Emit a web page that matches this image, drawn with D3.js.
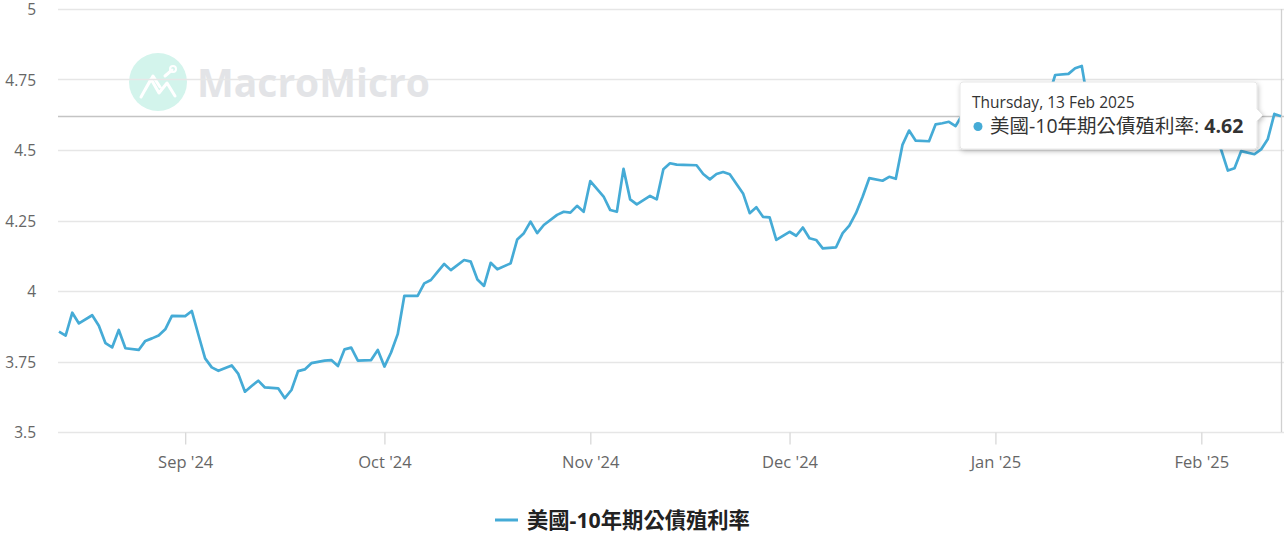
<!DOCTYPE html>
<html>
<head>
<meta charset="utf-8">
<script src="https://cdn.jsdelivr.net/npm/d3@7"></script>
<style>
  body { margin: 0; background: #fff; }
  .chart { width: 1284px; height: 535px; }
  text { font-family: "Open Sans", "Noto Sans CJK TC", sans-serif; }
</style>
</head>
<body>
<div class="chart"></div>
<script>
// US 10y yield, one value per calendar day from 13 Aug 2024 (null = no point that day)
const startDay = new Date(2024, 7, 13);
const yields = [
  3.856, 3.842, 3.923, 3.885, null, 3.914, 3.877, 3.815, 3.800, 3.862, 3.797, null, 3.791, 3.823,
  3.832, 3.842, 3.864, 3.912, null, 3.911, 3.929, 3.844, 3.761, 3.729, 3.717, null, 3.736, 3.706,
  3.643, 3.663, 3.682, 3.658, null, 3.655, 3.620, 3.649, 3.716, 3.722, 3.744, null, 3.753, 3.755,
  3.734, 3.793, 3.799, 3.753, null, 3.755, 3.791, 3.732, 3.782, 3.847, 3.983, null, 3.983, 4.027,
  4.039, 4.068, 4.096, 4.074, null, 4.110, 4.104, 4.041, 4.018, 4.100, 4.077, null, 4.098, 4.183,
  4.205, 4.246, 4.205, 4.234, null, 4.270, 4.281, 4.278, 4.302, 4.281, 4.390, null, 4.335, 4.287,
  4.281, 4.433, 4.325, 4.307, null, 4.337, 4.325, 4.432, 4.453, 4.448, 4.447, null, 4.446, 4.415,
  4.396, 4.415, 4.422, 4.414, null, 4.346, 4.276, 4.297, 4.263, 4.261, 4.181, null, 4.210, 4.196,
  4.225, 4.187, 4.181, 4.151, null, 4.155, 4.205, 4.232, 4.276, 4.334, 4.400, null, 4.391, 4.405,
  4.398, 4.518, 4.569, 4.533, null, 4.531, 4.591, 4.595, 4.600, 4.585, 4.624, null, 4.620, 4.550,
  4.570, 4.570, 4.570, 4.600, null, 4.600, 4.620, 4.680, 4.690, 4.690, 4.766, null, 4.770, 4.790,
  4.798, 4.660, 4.610, 4.610, null, 4.610, 4.600, 4.570, 4.600, 4.640, 4.620, null, 4.620, 4.530,
  4.550, 4.540, 4.520, 4.570, null, 4.570, 4.550, 4.500, 4.427, 4.435, 4.496, null, 4.485, 4.502,
  4.538, 4.628, 4.620
];
const yTicks = [3.5, 3.75, 4, 4.25, 4.5, 4.75, 5];
const monthTicks = [
  new Date(2024, 8, 1), new Date(2024, 9, 1), new Date(2024, 10, 1),
  new Date(2024, 11, 1), new Date(2025, 0, 1), new Date(2025, 1, 1)
];
const seriesName = '美國-10年期公債殖利率';
const lineColor = '#45abd6';

const width = 1284;
const height = 535;

const points = yields
  .map((v, i) => ({ date: d3.timeDay.offset(startDay, i), value: v }))
  .filter(d => d.value !== null);
const hovered = points[points.length - 1];

const svg = d3.select('.chart').append('svg')
  .attr('width', width)
  .attr('height', height);

const x = d3.scaleTime()
  .domain([startDay, hovered.date])
  .range([59, 1281]);

const y = d3.scaleLinear()
  .domain([3.5, 5])
  .range([432, 9]);

// watermark
const wm = svg.append('g').attr('class', 'watermark');
wm.append('circle')
  .attr('cx', 158).attr('cy', 82).attr('r', 29)
  .style('fill', '#d3f4ec');
wm.append('path')
  .attr('d', 'M141,97 L151,79 L159,93 L167,83 L175,96 M145,90 L153,76 L160,87 M165,76 L172,70')
  .style('fill', 'none')
  .style('stroke', '#fff')
  .style('stroke-width', 3)
  .style('stroke-linejoin', 'round')
  .style('stroke-linecap', 'round');
wm.append('circle')
  .attr('cx', 173).attr('cy', 69).attr('r', 3)
  .style('fill', 'none')
  .style('stroke', '#fff')
  .style('stroke-width', 2);
wm.append('text')
  .attr('x', 197).attr('y', 97)
  .style('font-size', '39px')
  .style('font-weight', 'bold')
  .style('fill', '#e3e4e7')
  .text('MacroMicro');

// horizontal grid + y labels
svg.append('g')
  .selectAll('line')
  .data(yTicks)
  .join('line')
  .attr('x1', 58)
  .attr('x2', width)
  .attr('y1', d => Math.round(y(d)) + 0.5)
  .attr('y2', d => Math.round(y(d)) + 0.5)
  .style('stroke', '#e6e6e6')
  .style('stroke-width', '1.3px');

svg.append('g')
  .selectAll('text')
  .data(yTicks)
  .join('text')
  .attr('x', 36)
  .attr('y', d => y(d) + 1)
  .attr('dy', '0.35em')
  .attr('text-anchor', 'end')
  .style('font-size', '15.5px')
  .style('fill', '#666')
  .text(d => d);

// x axis
const xAxis = d3.axisBottom(x)
  .tickValues(monthTicks)
  .tickSize(12)
  .tickPadding(12)
  .tickFormat(d3.timeFormat("%b '%y"));

const gx = svg.append('g')
  .attr('transform', 'translate(0,432.5)')
  .call(xAxis);
gx.select('.domain').remove();
gx.selectAll('.tick line').style('stroke', '#d8d8d8').style('stroke-width', '1.3px');
gx.selectAll('.tick text')
  .style('font-size', '16.5px')
  .style('fill', '#666')
  .style('font-family', '"Open Sans", sans-serif');

// crosshairs at hovered point
svg.append('line')
  .attr('x1', 58).attr('x2', width)
  .attr('y1', Math.round(y(hovered.value)) + 0.5)
  .attr('y2', Math.round(y(hovered.value)) + 0.5)
  .style('stroke', '#c4c4c4')
  .style('stroke-width', '1.3px');
svg.append('line')
  .attr('x1', Math.round(x(hovered.date)) + 0.5)
  .attr('x2', Math.round(x(hovered.date)) + 0.5)
  .attr('y1', 9).attr('y2', 432)
  .style('stroke', '#d0d0d0')
  .style('stroke-width', '1.3px');

// the series
const line = d3.line()
  .x(d => x(d.date))
  .y(d => y(d.value));

svg.append('path')
  .datum(points)
  .attr('d', line)
  .style('fill', 'none')
  .style('stroke', lineColor)
  .style('stroke-width', '2.7px')
  .style('stroke-linejoin', 'round');

// legend
svg.append('line')
  .attr('x1', 495).attr('x2', 518)
  .attr('y1', 520).attr('y2', 520)
  .style('stroke', lineColor)
  .style('stroke-width', '3px');
svg.append('text')
  .attr('x', 527).attr('y', 528)
  .style('font-size', '21.3px')
  .style('font-weight', 'bold')
  .style('fill', '#222')
  .text(seriesName);

// tooltip
const defs = svg.append('defs');
const shadow = defs.append('filter').attr('id', 'shadow')
  .attr('x', '-10%').attr('y', '-20%').attr('width', '130%').attr('height', '160%');
shadow.append('feDropShadow')
  .attr('dx', 1).attr('dy', 2).attr('stdDeviation', 2.5)
  .attr('flood-color', '#000').attr('flood-opacity', 0.25);

const tip = svg.append('g').attr('transform', 'translate(960,82)');
tip.append('path')
  .attr('d', 'M3,0 H294 Q297,0 297,3 V27 L303,33 L297,39 V64 Q297,67 294,67 H3 Q0,67 0,64 V3 Q0,0 3,0 Z')
  .style('fill', '#fff')
  .style('stroke', '#e2e2e2')
  .style('stroke-width', 0.8)
  .attr('filter', 'url(#shadow)');
tip.append('text')
  .attr('x', 12).attr('y', 26)
  .style('font-size', '15.5px')
  .style('fill', '#333')
  .text(d3.timeFormat('%A, %-d %b %Y')(hovered.date));
tip.append('circle')
  .attr('cx', 18).attr('cy', 44.5).attr('r', 4.5)
  .style('fill', lineColor);
const body = tip.append('text')
  .attr('x', 30).attr('y', 51)
  .style('font-size', '19.5px')
  .style('fill', '#333');
body.append('tspan').text(seriesName + ': ');
body.append('tspan')
  .style('font-weight', 'bold')
  .text(hovered.value.toFixed(2));
</script>
</body>
</html>
